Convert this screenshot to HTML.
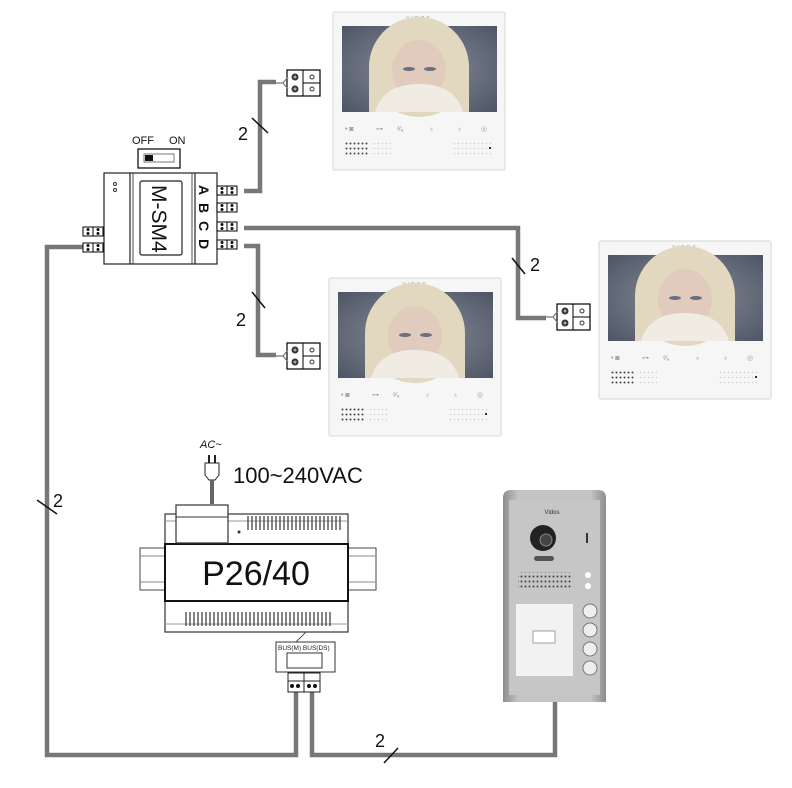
<!DOCTYPE html>
<html><head><meta charset="utf-8"><style>
html,body{margin:0;padding:0;background:#fff;width:792px;height:788px;overflow:hidden}
svg{display:block}
text{font-family:"Liberation Sans",sans-serif}
</style></head><body>
<svg width="792" height="788" viewBox="0 0 792 788" xmlns="http://www.w3.org/2000/svg">
<defs>
<radialGradient id="bg" cx="0.5" cy="0.5" r="0.7">
<stop offset="0" stop-color="#8a8e98"/><stop offset="1" stop-color="#4e5666"/></radialGradient>
<linearGradient id="door" x1="0" y1="0" x2="1" y2="0">
<stop offset="0" stop-color="#8d8d8d"/><stop offset="0.15" stop-color="#c4c4c4"/><stop offset="0.85" stop-color="#c4c4c4"/><stop offset="1" stop-color="#8d8d8d"/></linearGradient>
<pattern id="dots" width="4" height="5" patternUnits="userSpaceOnUse"><circle cx="1.5" cy="1.5" r="1" fill="#444"/></pattern>
<pattern id="ldots" width="4" height="5" patternUnits="userSpaceOnUse"><circle cx="1.5" cy="1.5" r="0.8" fill="#ccc"/></pattern>
<g id="mon">
<rect x="0" y="0" width="172" height="158" fill="#f6f6f6" stroke="#e2e2e2" stroke-width="1.5" rx="2"/>
<text x="86" y="8" font-size="5" fill="#999" text-anchor="middle" letter-spacing="2">VIDOS</text>
<rect x="9" y="14" width="155" height="86" fill="url(#bg)"/>
<ellipse cx="86" cy="55" rx="50" ry="50" fill="#e2d8c0"/>
<rect x="36" y="55" width="100" height="45" fill="#e2d8c0"/>
<ellipse cx="86" cy="58" rx="27" ry="30" fill="#e0cbbd"/>
<ellipse cx="76" cy="57" rx="6" ry="2" fill="#6a7080"/>
<ellipse cx="97" cy="57" rx="6" ry="2" fill="#6a7080"/>
<path d="M42 100 Q50 72 86 72 Q122 72 130 100 Z" fill="#f0ece4"/>
<g fill="#999" font-size="7"><text x="12" y="119">• ◙</text><text x="43" y="119">⊶</text><text x="64" y="119">ᵃ⁄ₐ</text><text x="96" y="119">♁</text><text x="124" y="119">♁</text><text x="148" y="119">◎</text></g>
<rect x="12" y="130" width="24" height="15" fill="url(#dots)"/>
<rect x="38" y="130" width="20" height="15" fill="url(#ldots)"/>
<rect x="120" y="130" width="40" height="15" fill="url(#ldots)"/>
<rect x="156" y="135" width="2" height="2" fill="#333"/>
</g>
<g id="term">
<rect x="0" y="0" width="33" height="26" fill="#fff" stroke="#000" stroke-width="1.2"/>
<line x1="16" y1="0" x2="16" y2="26" stroke="#000"/>
<line x1="16" y1="13" x2="33" y2="13" stroke="#000"/>
<circle cx="8" cy="7" r="3.5" fill="#333"/><circle cx="8" cy="19" r="3.5" fill="#333"/>
<circle cx="8" cy="7" r="1.5" fill="#aaa"/><circle cx="8" cy="19" r="1.5" fill="#aaa"/>
<circle cx="25" cy="7" r="2" fill="none" stroke="#333"/><circle cx="25" cy="19" r="2" fill="none" stroke="#333"/>
<path d="M-12 13 L-4 13 L1 7 M-4 13 L1 19" stroke="#777" stroke-width="1.2" fill="none"/>
</g>
<g id="sc">
<rect x="0" y="0" width="20" height="9" fill="#fff" stroke="#000"/>
<line x1="10" y1="0" x2="10" y2="9" stroke="#000"/>
<circle cx="5" cy="2.5" r="1.5" fill="#111"/><circle cx="5" cy="6.5" r="1.5" fill="#111"/>
<circle cx="15" cy="2.5" r="1.5" fill="#111"/><circle cx="15" cy="6.5" r="1.5" fill="#111"/>
</g>
</defs>

<g stroke="#777" stroke-width="4.5" fill="none">
<path d="M244 191 H260 V82 H276"/>
<path d="M244 228 H518 V318 H546"/>
<path d="M244 246 H258 V355 H276"/>
<path d="M86 247 H47 V755 H296 V692"/>
<path d="M312 692 V755 H555 V702"/>
</g>
<g stroke="#111" stroke-width="1.5">
<line x1="252" y1="118" x2="268" y2="133"/>
<line x1="512" y1="258" x2="525" y2="274"/>
<line x1="252" y1="292" x2="265" y2="308"/>
<line x1="37" y1="500" x2="57" y2="514"/>
<line x1="384" y1="763" x2="398" y2="748"/>
</g>
<g font-size="18" fill="#111">
<text x="238" y="140">2</text>
<text x="530" y="271">2</text>
<text x="236" y="326">2</text>
<text x="53" y="507">2</text>
<text x="375" y="747">2</text>
</g>

<use href="#mon" x="333" y="12"/>
<use href="#mon" x="329" y="278"/>
<use href="#mon" x="599" y="241"/>

<use href="#term" x="287" y="70"/>
<use href="#term" x="287" y="343"/>
<use href="#term" x="557" y="304"/>

<text x="132" y="144" font-size="11" fill="#111">OFF</text>
<text x="169" y="144" font-size="11" fill="#111">ON</text>
<rect x="138" y="149" width="42" height="19" fill="#fff" stroke="#000" stroke-width="1.2"/>
<rect x="144" y="154" width="30" height="8" fill="#fff" stroke="#555" stroke-width="0.8"/>
<rect x="145" y="155" width="8" height="6" fill="#111"/>
<rect x="104" y="173" width="113" height="91" fill="#fff" stroke="#222" stroke-width="1.2"/>
<line x1="130" y1="173" x2="130" y2="264" stroke="#222" stroke-width="1.2"/>
<line x1="133" y1="173" x2="133" y2="264" stroke="#222" stroke-width="0.8"/>
<line x1="192" y1="173" x2="192" y2="264" stroke="#222" stroke-width="0.8"/>
<line x1="195" y1="173" x2="195" y2="264" stroke="#222" stroke-width="1.2"/>
<rect x="140" y="181" width="42" height="74" fill="#fff" stroke="#222" stroke-width="1.2" rx="2"/>
<text transform="translate(152,185) rotate(90)" font-size="21" fill="#111">M-SM4</text>
<g font-size="14" font-weight="bold" fill="#111">
<text transform="translate(199,185) rotate(90)">A</text>
<text transform="translate(199,203) rotate(90)">B</text>
<text transform="translate(199,221) rotate(90)">C</text>
<text transform="translate(199,239) rotate(90)">D</text>
</g>
<circle cx="115" cy="184" r="1.5" fill="none" stroke="#333"/>
<circle cx="115" cy="190" r="1.5" fill="none" stroke="#333"/>
<use href="#sc" x="217" y="186"/>
<use href="#sc" x="217" y="203"/>
<use href="#sc" x="217" y="222"/>
<use href="#sc" x="217" y="240"/>
<use href="#sc" x="83" y="227"/>
<use href="#sc" x="83" y="243"/>

<text x="200" y="448" font-size="11" font-style="italic" fill="#111">AC~</text>
<rect x="208" y="455" width="2" height="8" fill="#222"/><rect x="214" y="455" width="2" height="8" fill="#222"/>
<path d="M205 463 H219 V475 L215 480 H209 L205 475 Z" fill="#fff" stroke="#222"/>
<rect x="210" y="480" width="4" height="24" fill="#666"/>
<text x="233" y="483" font-size="22" fill="#111">100~240VAC</text>
<rect x="140" y="548" width="26" height="42" fill="#fff" stroke="#444"/>
<rect x="347" y="548" width="29" height="42" fill="#fff" stroke="#444"/>
<line x1="140" y1="556" x2="166" y2="556" stroke="#888"/><line x1="140" y1="582" x2="166" y2="582" stroke="#888"/>
<line x1="347" y1="556" x2="376" y2="556" stroke="#888"/><line x1="347" y1="582" x2="376" y2="582" stroke="#888"/>
<rect x="165" y="514" width="183" height="118" fill="#fff" stroke="#333" stroke-width="1.2"/>
<rect x="165" y="544" width="183" height="57" fill="#fff" stroke="#111" stroke-width="2"/>
<line x1="165" y1="521" x2="348" y2="521" stroke="#999"/>
<line x1="165" y1="624" x2="348" y2="624" stroke="#999"/>
<rect x="176" y="505" width="52" height="38" fill="#fff" stroke="#333" stroke-width="1.2"/>
<line x1="176" y1="517" x2="228" y2="517" stroke="#333"/>
<circle cx="239" cy="532" r="1.5" fill="#333"/>
<g stroke="#333" stroke-width="1.2">
<path d="M248 516 v14 M252 516 v14 M256 516 v14 M260 516 v14 M264 516 v14 M268 516 v14 M272 516 v14 M276 516 v14 M280 516 v14 M284 516 v14 M288 516 v14 M292 516 v14 M296 516 v14 M300 516 v14 M304 516 v14 M308 516 v14 M312 516 v14 M316 516 v14 M320 516 v14 M324 516 v14 M328 516 v14 M332 516 v14 M336 516 v14 M340 516 v14"/>
<path d="M186 612 v14 M190 612 v14 M194 612 v14 M198 612 v14 M202 612 v14 M206 612 v14 M210 612 v14 M214 612 v14 M218 612 v14 M222 612 v14 M226 612 v14 M230 612 v14 M234 612 v14 M238 612 v14 M242 612 v14 M246 612 v14 M250 612 v14 M254 612 v14 M258 612 v14 M262 612 v14 M266 612 v14 M270 612 v14 M274 612 v14 M278 612 v14 M282 612 v14 M286 612 v14 M290 612 v14 M294 612 v14 M298 612 v14 M302 612 v14 M306 612 v14 M310 612 v14 M314 612 v14 M318 612 v14 M322 612 v14 M326 612 v14 M330 612 v14"/>
</g>
<text x="256" y="585" font-size="34" text-anchor="middle" fill="#111">P26/40</text>
<line x1="306" y1="632" x2="296" y2="642" stroke="#555"/>
<rect x="276" y="642" width="59" height="30" fill="#fff" stroke="#333"/>
<text x="278" y="650" font-size="6.5" fill="#222">BUS(M)  BUS(DS)</text>
<rect x="287" y="653" width="35" height="15" fill="#fff" stroke="#333"/>
<rect x="288" y="673" width="32" height="19" fill="#fff" stroke="#222"/>
<line x1="304" y1="673" x2="304" y2="692" stroke="#222"/>
<line x1="288" y1="681" x2="320" y2="681" stroke="#222"/>
<circle cx="292" cy="686" r="2" fill="#111"/><circle cx="298" cy="686" r="2" fill="#111"/>
<circle cx="309" cy="686" r="2" fill="#111"/><circle cx="315" cy="686" r="2" fill="#111"/>

<path d="M503 702 V498 Q503 490 511 490 H598 Q606 490 606 498 V702 Z" fill="url(#door)"/>
<rect x="509" y="500" width="91" height="195" fill="#c6c6c6"/>
<text x="552" y="514" font-size="6" text-anchor="middle" fill="#333">Vidos</text>
<circle cx="543" cy="538" r="13" fill="#222"/>
<circle cx="546" cy="540" r="6" fill="#444" stroke="#888"/>
<rect x="534" y="556" width="20" height="5" rx="2.5" fill="#555"/>
<rect x="586" y="533" width="2" height="10" fill="#333"/>
<rect x="518" y="572" width="54" height="16" fill="url(#dots)"/>
<circle cx="588" cy="575" r="3" fill="#fff"/><circle cx="588" cy="586" r="3" fill="#fff"/>
<rect x="516" y="604" width="57" height="72" fill="#f2f2f2"/>
<rect x="533" y="631" width="22" height="12" fill="#fff" stroke="#666" stroke-width="0.6"/>
<g fill="#eee" stroke="#777" stroke-width="1">
<circle cx="590" cy="611" r="7"/><circle cx="590" cy="630" r="7"/><circle cx="590" cy="649" r="7"/><circle cx="590" cy="668" r="7"/>
</g>
</svg>
</body></html>
